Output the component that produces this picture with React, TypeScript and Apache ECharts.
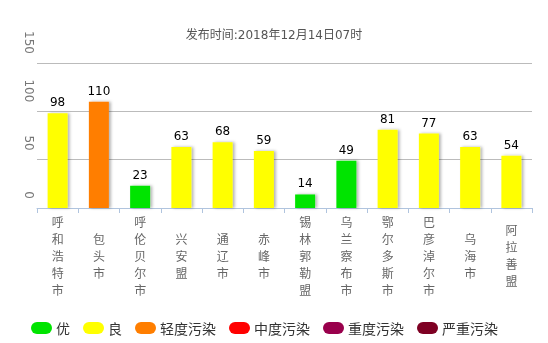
import React, { useEffect, useRef } from "react";
import * as echarts from "echarts";

const cities = ["呼和浩特市", "包头市", "呼伦贝尔市", "兴安盟", "通辽市", "赤峰市", "锡林郭勒盟", "乌兰察布市", "鄂尔多斯市", "巴彦淖尔市", "乌海市", "阿拉善盟"];
const aqiValues = [98, 110, 23, 63, 68, 59, 14, 49, 81, 77, 63, 54];
const levelNames = ["优", "良", "轻度污染", "中度污染", "重度污染", "严重污染"];
const levelColors = ["#00e400", "#ffff00", "#ff7e00", "#ff0000", "#99004c", "#7e0023"];
const levelUpper = [50, 100, 150, 200, 300, 500];
const yTicks = { min: 0, max: 150, interval: 50 };
const title = "发布时间:2018年12月14日07时";

function levelOf(v: number) {
  for (let i = 0; i < levelUpper.length; i++) if (v <= levelUpper[i]) return i;
  return levelUpper.length - 1;
}

export default function App() {
  const ref = useRef<HTMLDivElement>(null);
  useEffect(() => {
    if (!ref.current) return;
    const chart = echarts.init(ref.current, undefined, { renderer: "svg" });
    const font = "'Noto Sans CJK SC', sans-serif";
    const wideFont = "'DejaVu Sans', 'Noto Sans CJK SC', sans-serif";
    const series = levelNames.map((name, li) => ({
      name,
      type: "bar",
      stack: "aqi",
      barWidth: 20,
      data: aqiValues.map((v) => (levelOf(v) === li ? v : "-")),
      itemStyle: {
        color: levelColors[li],
        shadowColor: "rgba(0,0,0,0.3)",
        shadowBlur: 3,
        shadowOffsetX: 2,
        shadowOffsetY: 0,
      },
      label: {
        show: true,
        position: "top",
        distance: 5,
        color: "#000",
        fontSize: 12,
        fontFamily: wideFont,
      },
    }));
    chart.setOption({
      animation: false,
      textStyle: { fontFamily: font },
      title: {
        text: title,
        left: "center",
        top: 24,
        textStyle: { fontSize: 12, fontWeight: "normal", color: "#555", fontFamily: wideFont },
      },
      legend: {
        bottom: 3,
        left: 26,
        itemWidth: 21,
        itemHeight: 12,
        itemGap: 13,
        icon: "path://M6,0 h9 a6,6 0 0 1 0,12 h-9 a6,6 0 0 1 0,-12z",
        selectedMode: false,
        textStyle: { fontSize: 14, color: "#333", fontFamily: font, padding: [0, 0, 0, -1] },
        data: levelNames,
      },
      grid: { left: 37, right: 16, top: 63, bottom: 135 },
      xAxis: {
        type: "category",
        data: cities,
        axisLine: { lineStyle: { color: "#b0c4de" } },
        axisTick: { show: true, length: 5, lineStyle: { color: "#b0c4de" } },
        axisLabel: {
          interval: 0,
          formatter: (s: string) => s.split("").join("\n"),
          color: "#666",
          fontSize: 12,
          lineHeight: 17,
          verticalAlign: "middle",
          margin: 47,
          fontFamily: font,
        },
      },
      yAxis: {
        type: "value",
        min: yTicks.min,
        max: yTicks.max,
        interval: yTicks.interval,
        axisLine: { show: false },
        axisTick: { show: false },
        splitLine: { lineStyle: { color: "#bbb" } },
        axisLabel: {
          rotate: -90,
          align: "right",
          verticalAlign: "middle",
          margin: 8,
          padding: [0, 9, 0, 0],
          color: "#777",
          fontSize: 12,
          fontFamily: wideFont,
        },
      },
      series,
    });
    return () => chart.dispose();
  }, []);
  return <div ref={ref} style={{ position: "fixed", left: 0, top: 0, width: 548, height: 343 }} />;
}
